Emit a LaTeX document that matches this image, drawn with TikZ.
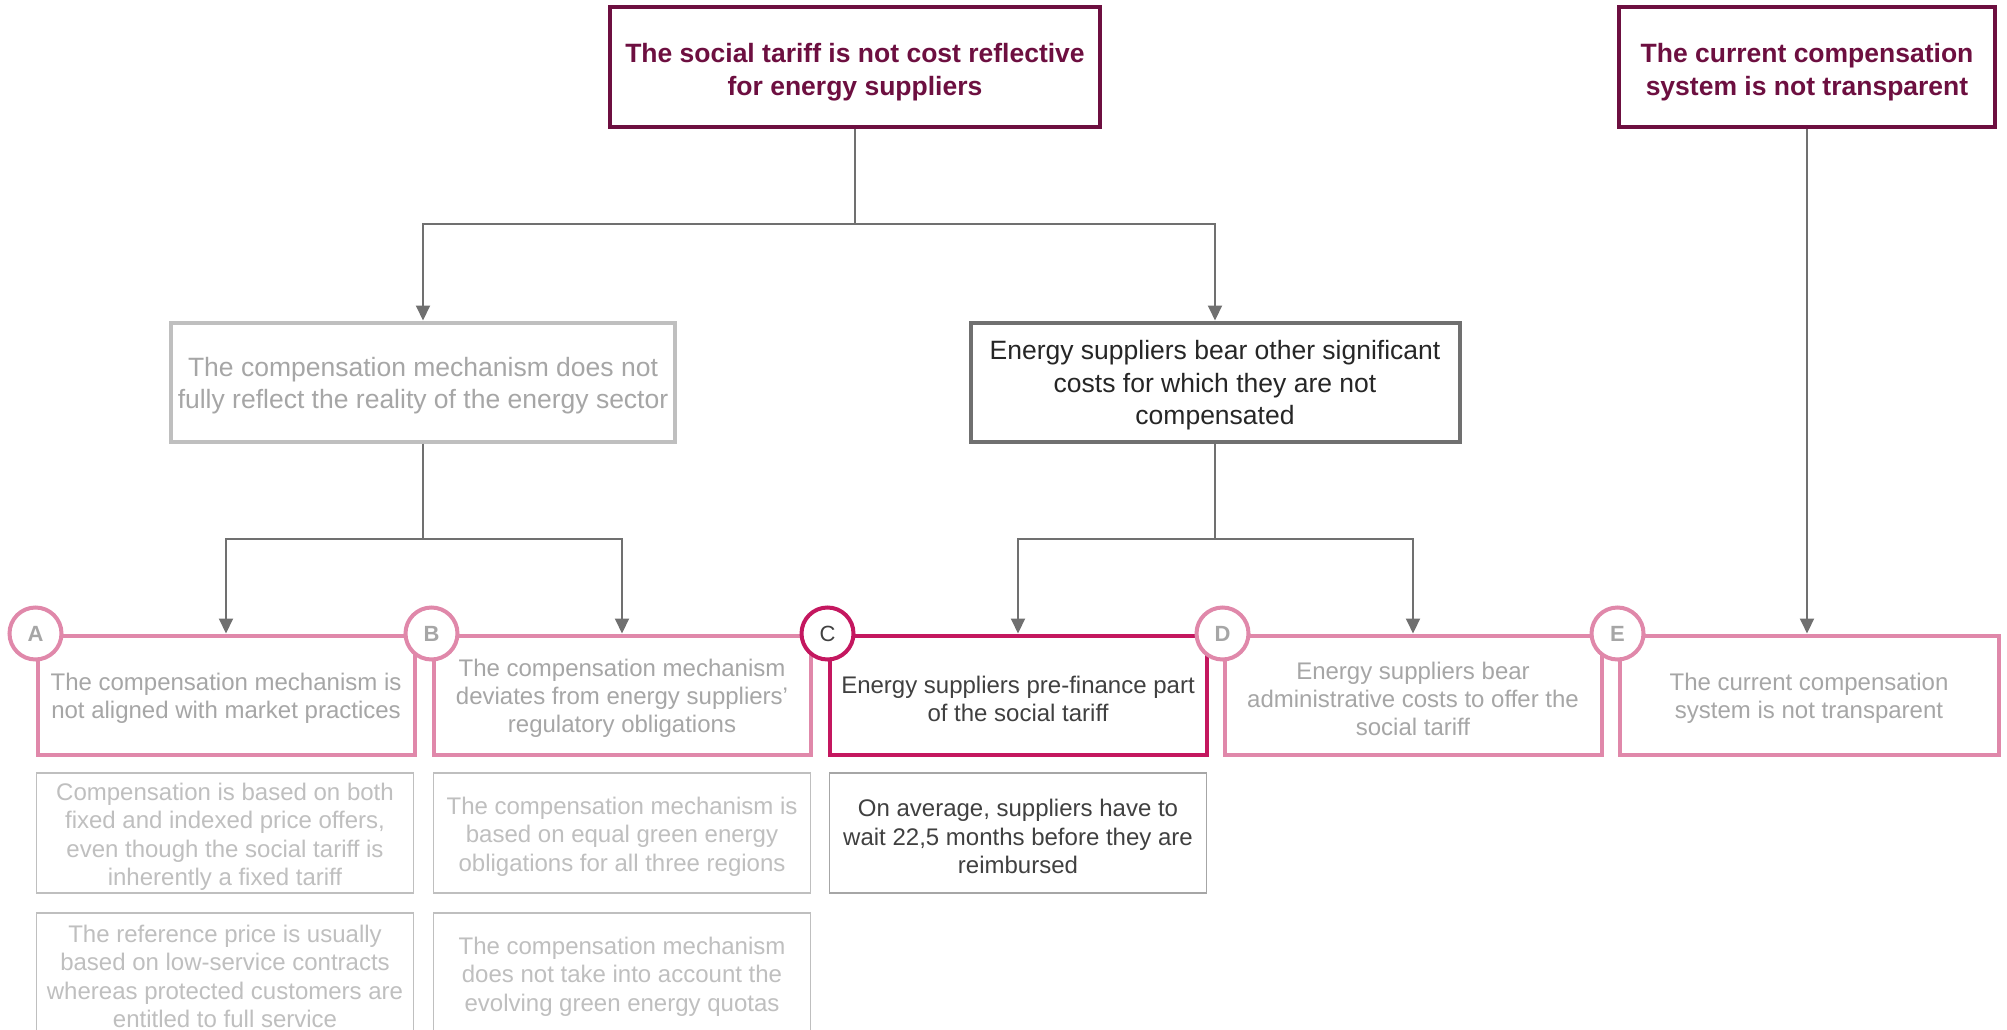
\documentclass[tikz,border=0pt]{standalone}
\usepackage{fontspec}
\setmainfont{Liberation Sans}
\usetikzlibrary{arrows.meta}
\definecolor{maroon}{RGB}{109,15,64}
\definecolor{pinkl}{RGB}{224,136,170}
\definecolor{pinkc}{RGB}{196,23,95}
\definecolor{connc}{RGB}{112,112,112}
\definecolor{gtext}{RGB}{166,166,166}
\definecolor{ltext}{RGB}{191,191,191}
\definecolor{dtext}{RGB}{64,64,64}
\definecolor{ddtext}{RGB}{38,38,38}
\definecolor{lborder}{RGB}{191,191,191}
\definecolor{mborder}{RGB}{166,166,166}
\newcommand{\mystrut}[1]{\rule{0pt}{#1}}
\begin{document}
\begin{tikzpicture}[x=1pt,y=-1pt,
  topbox/.style={draw=maroon, line width=4pt, fill=white, text=maroon,
    font=\bfseries\fontsize{26.5}{33}\selectfont, align=center,
    minimum height=120pt, inner sep=0pt},
  lvtwo/.style={line width=4pt, fill=white, align=center,
    font=\fontsize{26.5}{32.5}\selectfont, minimum height=119pt, inner sep=0pt},
  lvthree/.style={line width=4pt, fill=white, align=center,
    font=\fontsize{24}{28}\selectfont, minimum height=119pt,
    minimum width=377pt, inner sep=0pt},
  detail/.style={line width=1.5pt, fill=white, align=center,
    font=\fontsize{24}{28.5}\selectfont, minimum height=120pt,
    minimum width=377pt, inner sep=0pt},
  badge/.style={circle, line width=4pt, fill=white, minimum size=52pt,
    inner sep=0pt, font=\fontsize{22}{26}\selectfont},
  badgeb/.style={badge, draw=pinkl, text=gtext,
    font=\bfseries\fontsize{22}{26}\selectfont},
  conn/.style={draw=connc, line width=2pt},
  arr/.style={conn, -{Triangle[length=15pt,width=14pt]}}
]
\useasboundingbox (0,0) rectangle (2007,1030);

% top level
\node[topbox, minimum width=490pt] (top1) at (855,67)
  {\mystrut{30pt}The social tariff is not cost reflective\\for energy suppliers};
\node[topbox, minimum width=376pt] (top2) at (1807,67)
  {\mystrut{30pt}The current compensation\\system is not transparent};

% level two
\node[lvtwo, draw=lborder, text=gtext, minimum width=504pt] (l2a) at (423,382)
  {\mystrut{26pt}The compensation mechanism does not\\fully reflect the reality of the energy sector};
\node[lvtwo, draw=connc, text=ddtext, minimum width=489pt] (l2b) at (1215,382)
  {\mystrut{26pt}Energy suppliers bear other significant\\costs for which they are not\\compensated};

% level three
\node[lvthree, draw=pinkl, text=gtext] (A) at (226,695)
  {\mystrut{24.5pt}The compensation mechanism is\\not aligned with market practices};
\node[lvthree, draw=pinkl, text=gtext] (B) at (622,695)
  {\mystrut{24.5pt}The compensation mechanism\\deviates from energy suppliers'\\regulatory obligations};
\node[lvthree, draw=pinkc, text=dtext] (C) at (1018,695)
  {\mystrut{24.5pt}Energy suppliers pre-finance part\\of the social tariff};
\node[lvthree, draw=pinkl, text=gtext] (D) at (1413,695)
  {\mystrut{24.5pt}Energy suppliers bear\\administrative costs to offer the\\social tariff};
\node[lvthree, draw=pinkl, text=gtext, minimum width=379pt] (E) at (1809,695)
  {\mystrut{24.5pt}The current compensation\\system is not transparent};

% badges
\node[badgeb] (bA) at (A.north west) {A};
\node[badgeb] (bB) at (B.north west) {B};
\node[badge, draw=pinkc, text=dtext] (bC) at (C.north west) {C};
\node[badgeb] (bD) at (D.north west) {D};
\node[badgeb] (bE) at (E.north west) {E};

% details
\node[detail, draw=lborder, text=ltext] (A1) at (225,833)
  {\mystrut{24.5pt}Compensation is based on both\\fixed and indexed price offers,\\even though the social tariff is\\inherently a fixed tariff};
\node[detail, draw=lborder, text=ltext] (A2) at (225,973)
  {\mystrut{24.5pt}The reference price is usually\\based on low-service contracts\\whereas protected customers are\\entitled to full service};
\node[detail, draw=lborder, text=ltext] (B1) at (622,833)
  {\mystrut{24.5pt}The compensation mechanism is\\based on equal green energy\\obligations for all three regions};
\node[detail, draw=lborder, text=ltext] (B2) at (622,973)
  {\mystrut{24.5pt}The compensation mechanism\\does not take into account the\\evolving green energy quotas};
\node[detail, draw=mborder, text=dtext] (C1) at (1018,833)
  {\mystrut{24.5pt}On average, suppliers have to\\wait 22,5 months before they are\\reimbursed};

% connectors
\coordinate (j1) at (855,224);
\coordinate (j2) at (423,539);
\coordinate (j3) at (1215,539);
\draw[conn] (top1.south) -- (j1);
\draw[arr] (j1) -| (l2a.north);
\draw[arr] (j1) -| (l2b.north);
\draw[conn] (l2a.south) -- (j2);
\draw[arr] (j2) -| (A.north);
\draw[arr] (j2) -| (B.north);
\draw[conn] (l2b.south) -- (j3);
\draw[arr] (j3) -| (C.north);
\draw[arr] (j3) -| (D.north);
\draw[arr] (top2.south) -- (top2.south |- E.north);
\end{tikzpicture}
\end{document}
